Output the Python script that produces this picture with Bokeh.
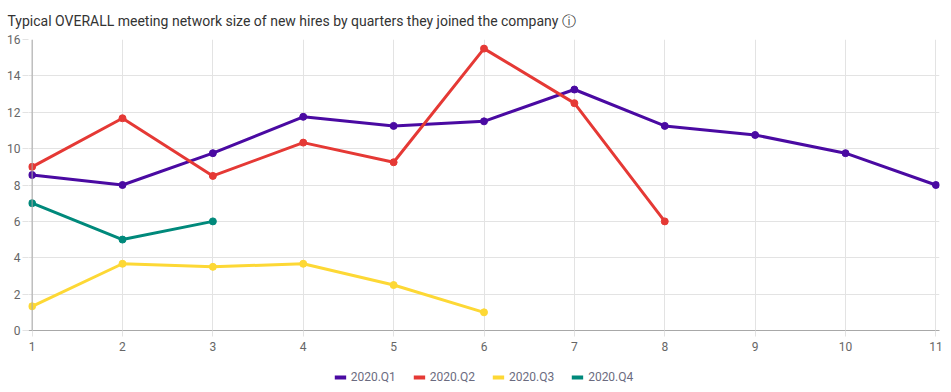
from bokeh.plotting import figure
from bokeh.models import Range1d, Legend, LegendItem, Title, FixedTicker, Span
from bokeh.layouts import column
from bokeh.embed import file_html
from bokeh.resources import INLINE

months = [1, 2, 3, 4, 5, 6, 7, 8, 9, 10, 11]
q1 = [8.55, 8.0, 9.75, 11.75, 11.25, 11.5, 13.25, 11.25, 10.75, 9.75, 8.0]
q2 = [9.0, 11.67, 8.5, 10.33, 9.25, 15.5, 12.5, 6.0]
q3 = [1.33, 3.67, 3.5, 3.67, 2.5, 1.0]
q4 = [7.0, 5.0, 6.0]
series_names = ["2020.Q1", "2020.Q2", "2020.Q3", "2020.Q4"]
series_values = [q1, q2, q3, q4]
colors = ["#4a0aa2", "#e53935", "#fdd835", "#00897b"]
y_ticks = [0, 2, 4, 6, 8, 10, 12, 14, 16]
title_text = "Typical OVERALL meeting network size of new hires by quarters they joined the company \u24d8"

p = figure(width=951, height=366, output_backend="svg", toolbar_location=None,
           x_range=Range1d(0.96, 11.04), y_range=Range1d(0, 16),
           min_border_left=28, min_border_right=12, min_border_top=0, min_border_bottom=36)
p.title = None
p.add_layout(Title(text=title_text, text_font="Roboto", text_font_size="14px",
                   text_font_style="normal", text_color="#333333", offset=-21, standoff=21), "above")
p.outline_line_color = None

for ax in [p.xaxis[0], p.yaxis[0]]:
    ax.axis_line_color = "#a8a8a8"
    ax.major_tick_line_color = "#e3e3e3"
    ax.major_tick_in = 0
    ax.minor_tick_line_color = None
    ax.major_label_text_font = "Roboto"
    ax.major_label_text_font_size = "12px"
    ax.major_label_text_color = "#666666"

p.yaxis.axis_line_color = None
p.xaxis.ticker = FixedTicker(ticks=months)
p.yaxis.ticker = FixedTicker(ticks=y_ticks)
p.xaxis.major_tick_out = 6
p.yaxis.major_tick_out = 6
p.xaxis.major_label_standoff = 5
p.yaxis.major_label_standoff = 2
p.xgrid.ticker = FixedTicker(ticks=months)
p.ygrid.ticker = FixedTicker(ticks=y_ticks)
p.xgrid.grid_line_color = "#e3e3e3"
p.ygrid.grid_line_color = "#e3e3e3"
p.add_layout(Span(location=months[0], dimension="height", line_color="#a8a8a8", line_width=1))

for name, vals, c in zip(series_names, series_values, colors):
    xs = months[:len(vals)]
    p.line(xs, vals, line_color=c, line_width=3)
    p.scatter(xs, vals, size=7, fill_color=c, line_color=c)

# legend strip
lg = figure(width=951, height=22, output_backend="svg", toolbar_location=None,
            x_range=Range1d(0, 1), y_range=Range1d(0, 1),
            min_border=0)
lg.axis.visible = False
lg.grid.visible = False
lg.outline_line_color = None
items = []
for name, c in zip(series_names, colors):
    r = lg.line([-10, -9], [-10, -9], line_color=c, line_width=4)
    items.append(LegendItem(label=name, renderers=[r]))
legend = Legend(items=items, orientation="horizontal", location="center",
                label_text_font="Roboto", label_text_font_size="12px",
                label_text_color="#6b6b80", glyph_width=12, glyph_height=12,
                spacing=17, label_standoff=5, border_line_alpha=0,
                background_fill_alpha=0, padding=0, margin=0,
                label_height=12)
lg.add_layout(legend)

layout = column(p, lg, spacing=0)
open("out.html", "w").write(file_html(layout, INLINE))
